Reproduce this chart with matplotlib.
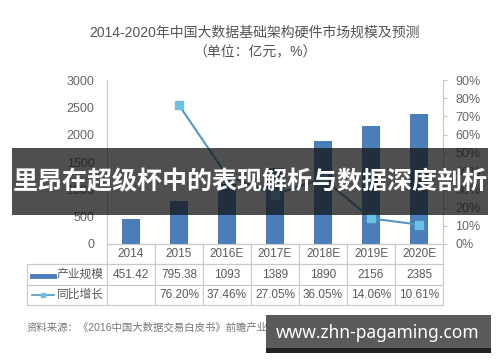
import numpy as np
import matplotlib
matplotlib.use("Agg")
import matplotlib.pyplot as plt
from matplotlib.patches import Rectangle
from matplotlib.lines import Line2D

plt.rcParams['font.family'] = ['Liberation Sans', 'Noto Sans CJK SC', 'DejaVu Sans']

years = ["2014", "2015", "2016E", "2017E", "2018E", "2019E", "2020E"]
scale = [451.42, 795.38, 1093, 1389, 1890, 2156, 2385]
growth = [None, 76.20, 37.46, 27.05, 36.05, 14.06, 10.61]
scale_txt = ["451.42", "795.38", "1093", "1389", "1890", "2156", "2385"]
growth_txt = ["", "76.20%", "37.46%", "27.05%", "36.05%", "14.06%", "10.61%"]
left_ticks = [0, 500, 1000, 1500, 2000, 2500, 3000]
right_ticks = [0, 10, 20, 30, 40, 50, 60, 70, 80, 90]

W, H = 500, 362
fig = plt.figure(figsize=(5, 3.62), dpi=100)

def px(x0, y0, x1, y1):
    # pixel box (top-left origin) -> figure fraction rect
    return [x0 / W, 1 - y1 / H, (x1 - x0) / W, (y1 - y0) / H]

ax = fig.add_axes(px(107, 80, 443, 244))
x = np.arange(len(years))
ax.bar(x, scale, width=0.38, color="#4a7ebb", zorder=2)
ax.set_xlim(-0.5, len(years) - 0.5)
ax.set_ylim(0, 3000)
ax.set_yticks(left_ticks)
ax.set_xticks([])
ax.tick_params(axis="y", length=0, pad=9, labelsize=9, labelcolor="#666666")
for s in ["top", "right"]:
    ax.spines[s].set_visible(False)
ax.spines["left"].set_color("#c8c8c8")
ax.spines["bottom"].set_color("#c8c8c8")

ax2 = ax.twinx()
gx = [i for i, g in enumerate(growth) if g is not None]
gy = [g for g in growth if g is not None]
ax2.plot(gx, gy, color="#5299bb", lw=1.5, marker="s", ms=6,
         mfc="#6cc0e3", mec="#6cc0e3", zorder=3)
ax2.set_ylim(0, 90)
ax2.set_yticks(right_ticks)
ax2.set_yticklabels([f"{t}%" for t in right_ticks])
ax2.tick_params(axis="y", length=3, color="#c8c8c8", pad=6, labelsize=9, labelcolor="#666666")
for s in ["top", "left", "bottom"]:
    ax2.spines[s].set_visible(False)
ax2.spines["right"].set_color("#c8c8c8")

# data table below the axes
cells = [[""] + years, ["产业规模"] + scale_txt, ["同比增长"] + growth_txt]
lw_frac = 80 / 336
tb = ax.table(cellText=cells, cellLoc="center", loc="bottom",
              colWidths=[lw_frac] + [1 / 7] * 7,
              bbox=[-lw_frac, -61 / 164, 1 + lw_frac, 61 / 164])
tb.auto_set_font_size(False)
for (r, c), cell in tb.get_celld().items():
    cell.set_edgecolor("#c8c8c8")
    cell.set_linewidth(0.8)
    cell.get_text().set_fontsize(8.5)
    cell.get_text().set_color("#5a5a5a")
    if r == 0 and c == 0:
        cell.visible_edges = "BR"
    if c == 0 and r > 0:
        cell.get_text().set_ha("right")
        cell._loc = "right"
        cell.PAD = 0.04

# legend samples in the table
fig.add_artist(Line2D([32 / W, 54 / W], [1 - 276 / H] * 2, color="#4a7ebb", lw=3.5))
fig.add_artist(Line2D([32 / W, 54 / W], [1 - 295 / H] * 2, color="#5299bb", lw=1.2))
fig.add_artist(Line2D([43 / W], [1 - 295 / H], color="#6cc0e3", marker="s", ms=3.5, lw=0))

fig.text(255 / W, 1 - 33 / H, "2014-2020年中国大数据基础架构硬件市场规模及预测",
         ha="center", va="center", fontsize=10, color="#555555")
fig.text(255 / W, 1 - 52 / H, "（单位：亿元，%）",
         ha="center", va="center", fontsize=10, color="#555555")
fig.text(27 / W, 1 - 328 / H, "资料来源：《2016中国大数据交易白皮书》前瞻产业研究院整理",
         ha="left", va="center", fontsize=7.5, color="#777777")

# overlay banner
fig.add_artist(Rectangle((12 / W, 1 - 215 / H), 476 / W, 67 / H,
                         transform=fig.transFigure, facecolor="#141414", alpha=0.75,
                         edgecolor="none", zorder=10))
fig.text(250 / W, 1 - 182 / H, "里昂在超级杯中的表现解析与数据深度剖析",
         ha="center", va="center", fontsize=18, fontweight="bold", color="white",
         family=["Noto Sans CJK SC", "DejaVu Sans"], zorder=11)

# watermark box
fig.add_artist(Rectangle((266 / W, 1 - 353 / H), 225 / W, 38 / H,
                         transform=fig.transFigure, facecolor="#5a5a5a",
                         edgecolor="none", zorder=10))
fig.add_artist(Rectangle((266 / W, 1 - 353 / H), 225 / W, 5 / H,
                         transform=fig.transFigure, facecolor="#222222",
                         edgecolor="none", zorder=10))
fig.text(378 / W, 1 - 333 / H, "www.zhn-pagaming.com",
         ha="center", va="center", fontsize=12.5, fontweight="bold", color="white",
         family=["Noto Sans", "DejaVu Sans"], zorder=11)

fig.savefig("out.png", dpi=100)
